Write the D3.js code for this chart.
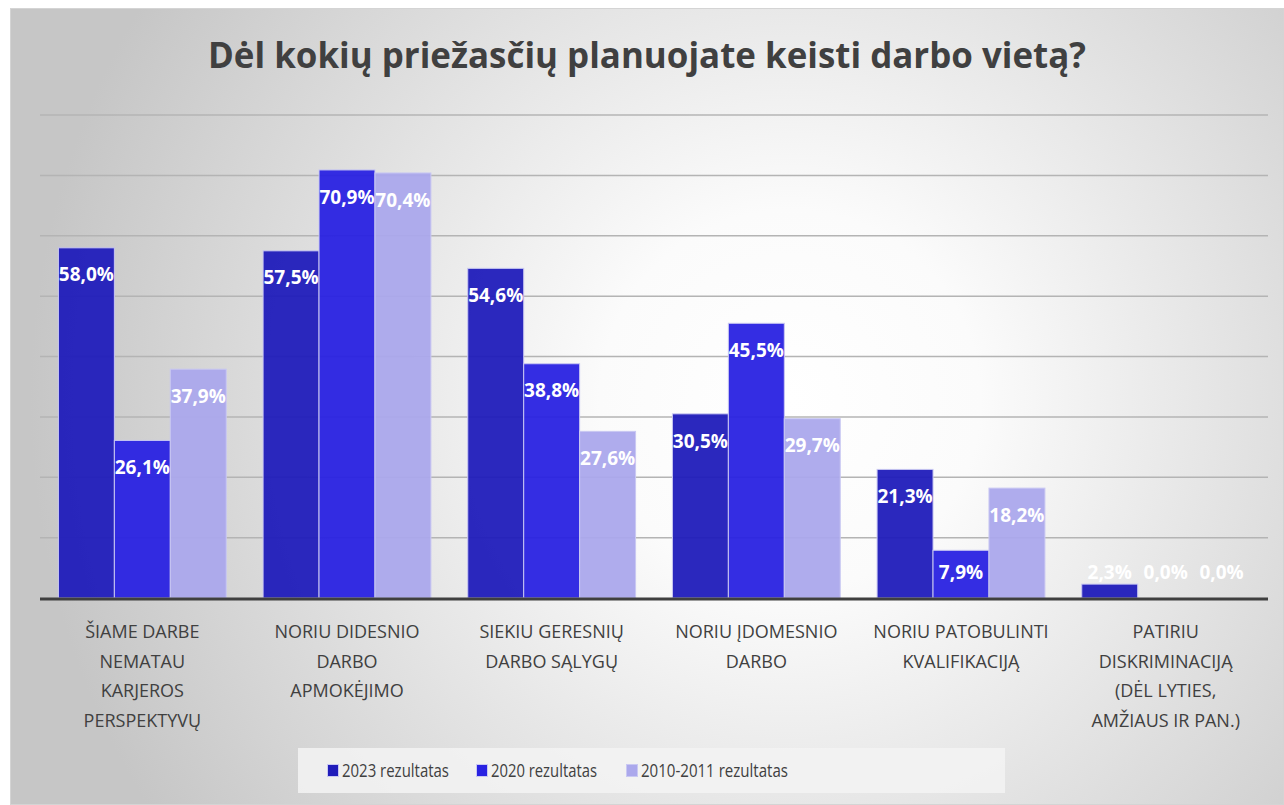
<!DOCTYPE html>
<html>
<head>
<meta charset="utf-8">
<script src="https://cdn.jsdelivr.net/npm/d3@7"></script>
<style>
    body { margin: 0; background: #fff; }
    svg { display: block; }
    text { font-family: "Open Sans", "Noto Sans", sans-serif; }
</style>
</head>
<body>
<div id="chart"></div>
<script>
const title = 'Dėl kokių priežasčių planuojate keisti darbo vietą?';

const categories = [
    ['ŠIAME DARBE', 'NEMATAU', 'KARJEROS', 'PERSPEKTYVŲ'],
    ['NORIU DIDESNIO', 'DARBO', 'APMOKĖJIMO'],
    ['SIEKIU GERESNIŲ', 'DARBO SĄLYGŲ'],
    ['NORIU ĮDOMESNIO', 'DARBO'],
    ['NORIU PATOBULINTI', 'KVALIFIKACIJĄ'],
    ['PATIRIU', 'DISKRIMINACIJĄ', '(DĖL LYTIES,', 'AMŽIAUS IR PAN.)']
];
const seriesNames = ['2023 rezultatas', '2020 rezultatas', '2010-2011 rezultatas'];
const values2023 = [58.0, 57.5, 54.6, 30.5, 21.3, 2.3];
const values2020 = [26.1, 70.9, 38.8, 45.5, 7.9, 0.0];
const values2010 = [37.9, 70.4, 27.6, 29.7, 18.2, 0.0];
const gridTicks = [0, 10, 20, 30, 40, 50, 60, 70, 80];

const colors = ['#201cba', '#2922e2', '#aba8ec'];

const W = 1284, H = 805;
const plot = { left: 40, right: 1268, top: 115, bottom: 598 };

const svg = d3.select('#chart').append('svg')
    .attr('width', W).attr('height', H);

// background gradient
const defs = svg.append('defs');
const grad = defs.append('radialGradient')
    .attr('id', 'bg')
    .attr('gradientUnits', 'userSpaceOnUse')
    .attr('cx', 790).attr('cy', 400).attr('r', 760);
grad.append('stop').attr('offset', '0%').attr('stop-color', '#ffffff');
grad.append('stop').attr('offset', '25%').attr('stop-color', '#fbfbfb');
grad.append('stop').attr('offset', '100%').attr('stop-color', '#c6c6c6');

svg.append('rect')
    .attr('x', 10.5).attr('y', 8.5)
    .attr('width', W - 11).attr('height', H - 9)
    .attr('fill', 'url(#bg)')
    .attr('stroke', '#d4d4d4');

// title
svg.append('text')
    .attr('x', 647).attr('y', 68)
    .attr('text-anchor', 'middle')
    .attr('font-size', 35)
    .attr('font-weight', 'bold')
    .attr('fill', '#404040')
    .attr('textLength', 878)
    .attr('lengthAdjust', 'spacingAndGlyphs')
    .text(title);

const y = d3.scaleLinear().domain([0, 80]).range([plot.bottom, plot.top]);
const x0 = d3.scaleBand()
    .domain(d3.range(categories.length))
    .range([plot.left, plot.right])
    .paddingInner(0.18)
    .paddingOuter(0.09);
const x1 = d3.scaleBand()
    .domain(d3.range(seriesNames.length))
    .range([0, x0.bandwidth()]);

// gridlines
svg.append('g')
    .selectAll('line')
    .data(gridTicks.slice(1))
    .join('line')
        .attr('x1', plot.left).attr('x2', plot.right)
        .attr('y1', d => y(d)).attr('y2', d => y(d))
        .attr('stroke', '#b4b4b4')
        .attr('stroke-width', 1.5);

const series = [values2023, values2020, values2010];
const rows = [];
categories.forEach((c, i) => {
    series.forEach((vals, s) => rows.push({ cat: i, s: s, value: vals[i] }));
});

// bars
svg.append('g')
    .selectAll('rect')
    .data(rows.filter(d => d.value > 0))
    .join('rect')
        .attr('x', d => x0(d.cat) + x1(d.s))
        .attr('y', d => y(d.value))
        .attr('width', x1.bandwidth())
        .attr('height', d => y(0) - y(d.value))
        .attr('fill', d => colors[d.s])
        .attr('fill-opacity', 0.95)
        .attr('stroke', '#c9c8f2')
        .attr('stroke-width', 1);

// value labels
svg.append('g')
    .selectAll('text')
    .data(rows)
    .join('text')
        .attr('x', d => x0(d.cat) + x1(d.s) + x1.bandwidth() / 2)
        .attr('y', d => Math.min(y(d.value) + 27, y(0) - 26))
        .attr('dy', '0.35em')
        .attr('text-anchor', 'middle')
        .attr('font-size', 19)
        .attr('font-weight', 'bold')
        .attr('fill', '#ffffff')
        .text(d => d.value.toFixed(1).replace('.', ',') + '%');

// baseline
svg.append('line')
    .attr('x1', plot.left).attr('x2', plot.right)
    .attr('y1', y(0) + 1).attr('y2', y(0) + 1)
    .attr('stroke', '#3f3f3f')
    .attr('stroke-width', 3);

// category labels
const catG = svg.append('g')
    .selectAll('text')
    .data(categories)
    .join('text')
        .attr('text-anchor', 'middle')
        .attr('font-size', 18)
        .attr('fill', '#404040');
catG.selectAll('tspan')
    .data((d, i) => d.map(line => ({ line, i })))
    .join('tspan')
        .attr('x', d => x0(d.i) + x0.bandwidth() / 2)
        .attr('y', (d, j) => 638 + j * 29.5)
        .text(d => d.line);

// legend
const legend = svg.append('g');
legend.append('rect')
    .attr('x', 298).attr('y', 748)
    .attr('width', 707).attr('height', 45)
    .attr('fill', '#f3f3f3')
    .attr('fill-opacity', 0.85);

const legendX = [327, 476, 626];
const legendW = [107, 106, 147];
const items = legend.selectAll('g.item')
    .data(seriesNames)
    .join('g')
        .attr('class', 'item')
        .attr('transform', (d, i) => 'translate(' + legendX[i] + ',771)');
items.append('rect')
    .attr('x', 0.5).attr('y', -6.5)
    .attr('width', 11).attr('height', 12)
    .attr('fill', (d, i) => colors[i])
    .attr('stroke', '#c9c8f2');
items.append('text')
    .attr('x', 15).attr('dy', '0.35em')
    .attr('font-size', 18)
    .attr('fill', '#404040')
    .attr('textLength', (d, i) => legendW[i])
    .attr('lengthAdjust', 'spacingAndGlyphs')
    .text(d => d);
</script>
</body>
</html>
